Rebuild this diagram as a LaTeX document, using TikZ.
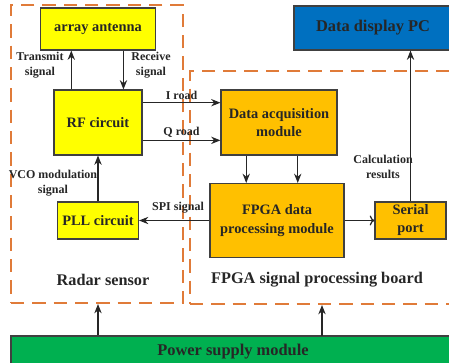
\documentclass[tikz,border=0pt]{standalone}
\usepackage{fontspec}
\setmainfont{Liberation Serif}
\usetikzlibrary{positioning, calc, arrows.meta}
\definecolor{antyellow}{HTML}{FFFF00}
\definecolor{modorange}{HTML}{FFC000}
\definecolor{pcblue}{HTML}{0070C0}
\definecolor{pwrgreen}{HTML}{00B050}
\definecolor{dashorange}{HTML}{E07B39}
\tikzset{block/.style={draw=black!75, line width=0.8pt, align=center, inner sep=0pt, text=black!85, font=\fontsize{10.8}{13.5}\selectfont\bfseries}}
\tikzset{bigblock/.style={block, font=\fontsize{12.3}{14}\selectfont\bfseries}}
\tikzset{sig/.style={draw=black!85, line width=0.9pt, -{Stealth[length=7pt, width=5.5pt]}}}
\tikzset{lbl/.style={font=\fontsize{9}{11.25}\selectfont\bfseries, align=center, text=black!85, inner sep=1pt}}
\tikzset{group/.style={draw=dashorange, line width=1.5pt, dash pattern=on 10pt off 6pt}}
\tikzset{grouptitle/.style={font=\fontsize{12.2}{14}\selectfont\bfseries, text=black!85}}

\begin{document}
\begin{tikzpicture}[x=0.75pt, y=-0.75pt]
  \useasboundingbox (0,0) rectangle (449,362);
  \clip (0,0) rectangle (449,362);

  % dashed boards
  \node[group, minimum width=129pt, minimum height=223.5pt] (sensor) at (97,154) {};
  \node[group, minimum width=210pt, minimum height=174.75pt] (board) at (330,187.5) {};
  \node[grouptitle] (sensortitle) at (103,280) {Radar sensor};
  \node[grouptitle] (boardtitle) at (317,280) {FPGA signal processing board};

  % radar sensor
  \node[block, fill=antyellow, minimum width=86pt, minimum height=31.5pt] (ant) at (98,29) {array antenna};
  \node[block, fill=antyellow, minimum width=66pt, minimum height=48.75pt] (rf) at (98,122.5) {RF circuit};
  \node[block, fill=antyellow, minimum width=60.75pt, minimum height=27.75pt] (pll) at (98,220.5) {PLL circuit}
    edge[sig] (rf);

  % signal processing board
  \node[block, fill=modorange, minimum width=87pt, minimum height=48.75pt] (daq) at (279,122.5) {Data acquisition\\module};
  \node[block, fill=modorange, minimum width=100.5pt, minimum height=55.5pt, font=\fontsize{10.8}{14.25}\selectfont\bfseries] (fpga) at (277,220.5) {FPGA data\\processing module}
    edge[sig] (pll);
  \node[block, fill=modorange, minimum width=53.25pt, minimum height=27.75pt] (serial) at (410.5,220.5) {Serial\\port}
    edge[sig, <-] (fpga);
  \node[bigblock, fill=pcblue, minimum width=118.5pt, minimum height=33pt] (pc) at (373,28) {Data display PC};
  \node[bigblock, fill=pwrgreen, minimum width=333pt, minimum height=24pt] (power) at (233,352) {Power supply module};

  % connectors
  \coordinate (tx) at ($(rf.north west)!.2!(rf.north east)$);
  \coordinate (rx) at ($(ant.south west)!.72!(ant.south east)$);
  \draw[sig] (tx) -- (tx |- ant.south);
  \draw[sig] (rx) -- (rx |- rf.north);

  \coordinate (iout) at ($(rf.north east)!.2!(rf.south east)$);
  \coordinate (qout) at ($(rf.north east)!.77!(rf.south east)$);
  \draw[sig] (iout) -- (iout -| daq.west) node[lbl, midway, above=1pt] (ilbl) {I road};
  \draw[sig] (qout) -- (qout -| daq.west) node[lbl, midway, above=1pt] (qlbl) {Q road};

  \coordinate (dq1) at ($(daq.south west)!.22!(daq.south east)$);
  \coordinate (dq2) at ($(daq.south west)!.66!(daq.south east)$);
  \draw[sig] (dq1) -- (dq1 |- fpga.north);
  \draw[sig] (dq2) -- (dq2 |- fpga.north);

  \draw[sig] (serial.north) -- (serial.north |- pc.south);

  \coordinate (pw2) at (322,336);
  \draw[sig] (power.north -| rf) -- (sensor.south -| rf);
  \draw[sig] (pw2) -- (pw2 |- board.south);

  % labels
  \node[lbl] (txlbl) at (40,65) {Transmit\\signal};
  \node[lbl] (rxlbl) at (151,65) {Receive\\signal};
  \node[lbl] (vcolbl) at (53,183) {VCO modulation\\signal};
  \node[lbl] (spilbl) at (178,208) {SPI signal};
  \node[lbl] (calclbl) at (383,167) {Calculation\\results};
\end{tikzpicture}
\end{document}
